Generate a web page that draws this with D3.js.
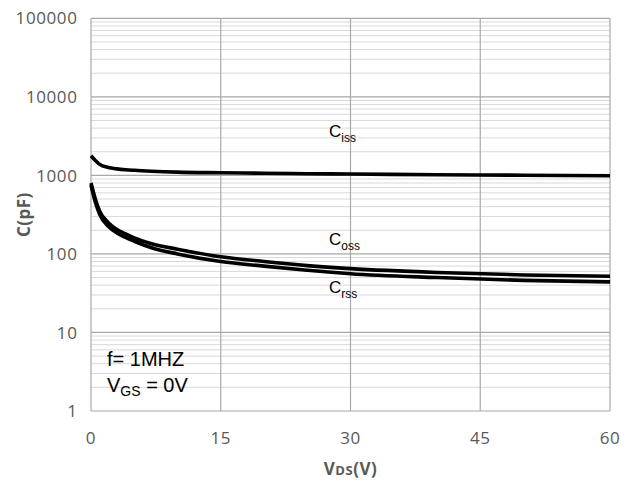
<!DOCTYPE html>
<html>
<head>
<meta charset="utf-8">
<script src="https://cdn.jsdelivr.net/npm/d3@7/dist/d3.min.js"></script>
<style>
  html, body { margin: 0; padding: 0; background: #fff; }
  svg { display: block; }
</style>
</head>
<body>
<svg id="chart" width="632" height="482"></svg>
<script>
// Capacitance vs drain-source voltage (f = 1 MHz, VGS = 0 V)
const vds = [0, 0.5, 1, 2, 3, 4, 5, 7, 10, 15, 20, 25, 30, 40, 50, 60];
const ciss = [1780, 1550, 1380, 1260, 1210, 1180, 1160, 1130, 1100, 1080, 1065, 1050, 1040, 1020, 1005, 990];
const coss = [800, 500, 350, 250, 205, 180, 160, 135, 115, 92, 80, 71, 65, 58, 54, 52];
const crss = [750, 460, 320, 225, 185, 162, 145, 120, 100, 80, 70, 62, 56, 50, 46, 44];

const xTicks = [0, 15, 30, 45, 60];
const yTicks = [1, 10, 100, 1000, 10000, 100000];

const svg = d3.select("#chart");
const plotL = 91, plotR = 610, plotT = 18.3, plotB = 411;

const x = d3.scaleLinear().domain([0, 60]).range([plotL, plotR]);
const y = d3.scaleLog().domain([1, 100000]).range([plotB, plotT]);

// minor grid (2..9 within each decade)
const minor = [];
for (let d = 1; d < 100000; d *= 10) {
  for (let k = 2; k <= 9; k++) minor.push(d * k);
}
svg.append("g").selectAll("line").data(minor).join("line")
  .attr("x1", plotL).attr("x2", plotR)
  .attr("y1", d => y(d)).attr("y2", d => y(d))
  .attr("stroke", "#d9d9d9").attr("stroke-width", 1);

// major grid
svg.append("g").selectAll("line").data(yTicks).join("line")
  .attr("x1", plotL).attr("x2", plotR)
  .attr("y1", d => y(d)).attr("y2", d => y(d))
  .attr("stroke", "#a8a8a8").attr("stroke-width", 1.2);

svg.append("g").selectAll("line").data(xTicks).join("line")
  .attr("x1", d => x(d)).attr("x2", d => x(d))
  .attr("y1", plotT).attr("y2", plotB)
  .attr("stroke", "#a8a8a8").attr("stroke-width", 1.2);

// tick labels
const tickFont = "'Open Sans', sans-serif";
svg.append("g").selectAll("text").data(yTicks).join("text")
  .attr("x", 77.5).attr("y", d => y(d))
  .attr("dy", "0.36em")
  .attr("text-anchor", "end")
  .attr("font-family", tickFont).attr("font-size", 17)
  .attr("letter-spacing", 0.6)
  .attr("fill", "#595959")
  .text(d => d);

svg.append("g").selectAll("text").data(xTicks).join("text")
  .attr("x", d => x(d)).attr("y", 444)
  .attr("text-anchor", "middle")
  .attr("font-family", tickFont).attr("font-size", 17)
  .attr("letter-spacing", 0.6)
  .attr("fill", "#595959")
  .text(d => d);

// axis titles
svg.append("text")
  .attr("transform", `translate(30,${(plotT + plotB) / 2}) rotate(-90)`)
  .attr("text-anchor", "middle")
  .attr("font-family", tickFont).attr("font-size", 17).attr("font-weight", "bold")
  .attr("letter-spacing", 0.5)
  .attr("fill", "#595959")
  .text("C(pF)");

const xt = svg.append("text")
  .attr("x", (plotL + plotR) / 2).attr("y", 475)
  .attr("text-anchor", "middle")
  .attr("font-family", tickFont).attr("font-size", 17).attr("font-weight", "bold")
  .attr("letter-spacing", 0.5)
  .attr("fill", "#595959");
xt.append("tspan").text("V");
xt.append("tspan").attr("font-size", 13).text("DS");
xt.append("tspan").text("(V)");

// curves
const line = d3.line()
  .x((d, i) => x(vds[i]))
  .y(d => y(d))
  .curve(d3.curveMonotoneX);

[ciss, coss, crss].forEach(s => {
  svg.append("path")
    .attr("d", line(s))
    .attr("fill", "none")
    .attr("stroke", "#000")
    .attr("stroke-width", 3.6)
    .attr("stroke-linejoin", "round");
});

// curve labels
const lblFont = "'Liberation Sans', Arial, sans-serif";
function label(px, py, main, sub) {
  const t = svg.append("text")
    .attr("x", px).attr("y", py)
    .attr("font-family", lblFont).attr("font-size", 17)
    .attr("fill", "#000");
  t.append("tspan").text(main);
  t.append("tspan").attr("font-size", 12).attr("dy", 5).text(sub);
}
label(329, 137, "C", "iss");
label(329, 245, "C", "oss");
label(329, 293, "C", "rss");

// test conditions
svg.append("text")
  .attr("x", 107).attr("y", 366)
  .attr("font-family", lblFont).attr("font-size", 20)
  .attr("fill", "#000")
  .text("f= 1MHZ");

const vg = svg.append("text")
  .attr("x", 107).attr("y", 392)
  .attr("font-family", lblFont).attr("font-size", 20)
  .attr("fill", "#000");
vg.append("tspan").text("V");
vg.append("tspan").attr("font-size", 14).attr("dy", 4).text("GS");
vg.append("tspan").attr("dy", -4).text(" = 0V");
</script>
</body>
</html>
